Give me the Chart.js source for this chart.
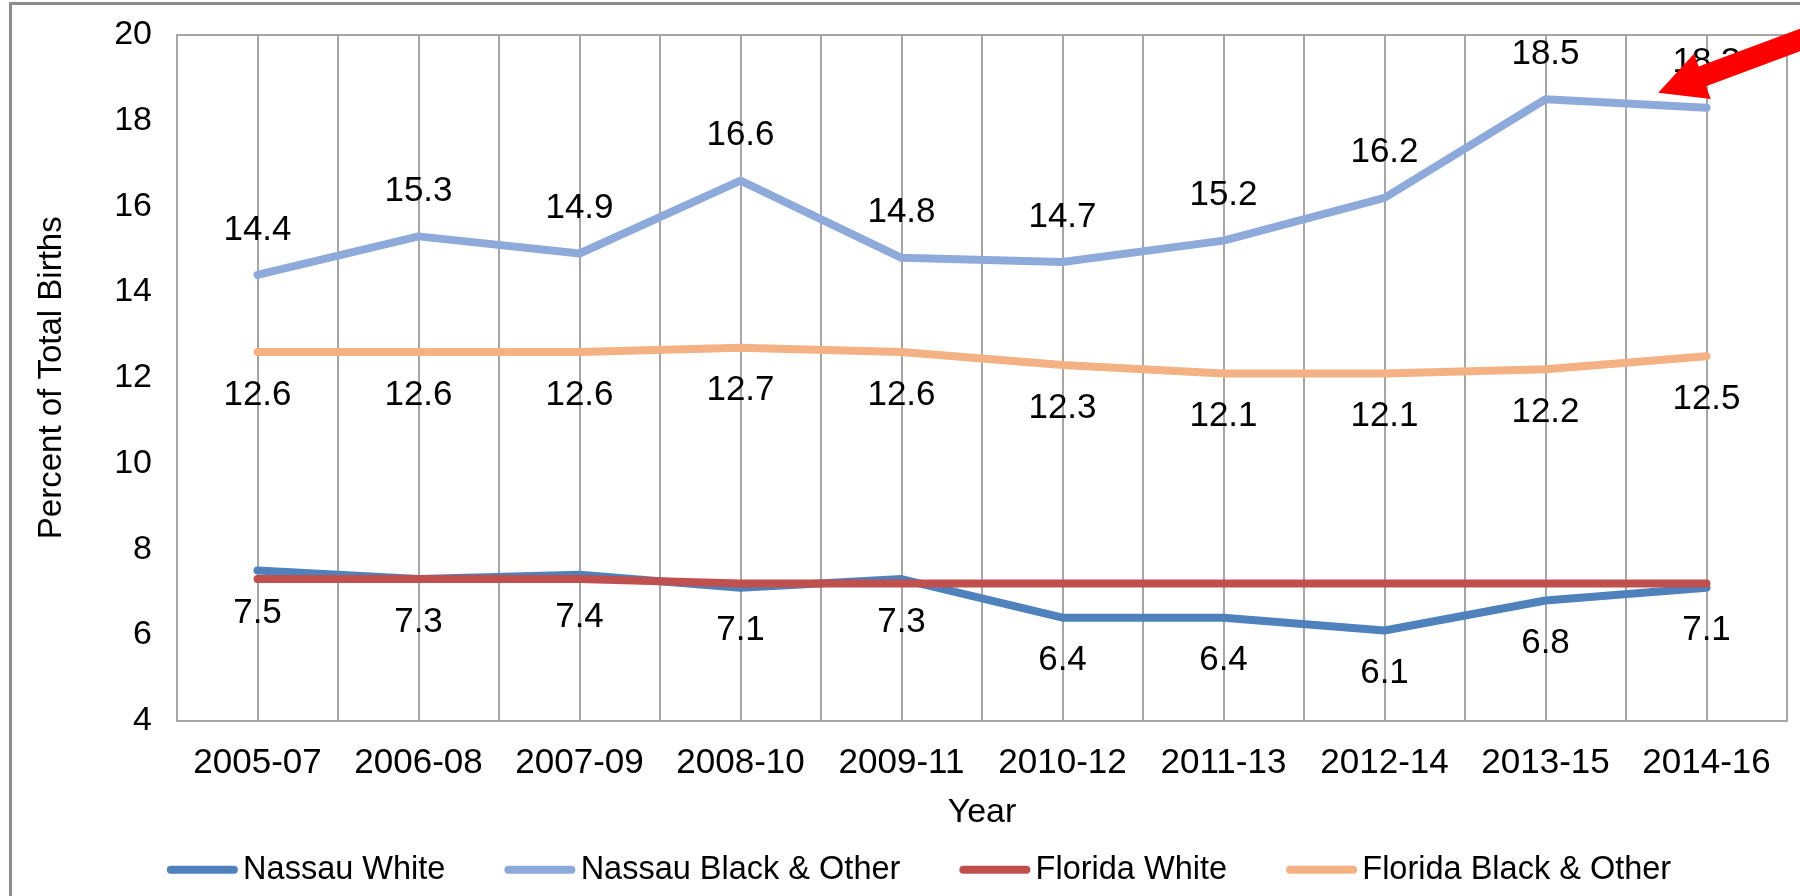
<!DOCTYPE html>
<html>
<head>
<meta charset="utf-8">
<title>Percent of Total Births</title>
<script src="https://cdn.jsdelivr.net/npm/chart.js@4.4.1/dist/chart.umd.min.js"></script>
<style>
  html, body { margin: 0; padding: 0; background: #ffffff; }
  #wrap { position: relative; width: 1800px; height: 896px; overflow: hidden; }
  #frame { position: absolute; left: 9px; top: 2px; width: 2000px; height: 1000px;
           border-left: 3px solid #8c8c8c; border-top: 3px solid #8c8c8c; }
  #birthsChart { position: absolute; left: 0; top: 0; }
</style>
</head>
<body>
<div id="wrap">
  <div id="frame"></div>
  <canvas id="birthsChart" width="1800" height="896"></canvas>
</div>
<script>
// Data
var years = ["2005-07", "2006-08", "2007-09", "2008-10", "2009-11", "2010-12", "2011-13", "2012-14", "2013-15", "2014-16"];
var nassauWhite = [7.5, 7.3, 7.4, 7.1, 7.3, 6.4, 6.4, 6.1, 6.8, 7.1];
var nassauBlack = [14.4, 15.3, 14.9, 16.6, 14.8, 14.7, 15.2, 16.2, 18.5, 18.3];
var floridaWhite = [7.3, 7.3, 7.3, 7.2, 7.2, 7.2, 7.2, 7.2, 7.2, 7.2];
var floridaBlack = [12.6, 12.6, 12.6, 12.7, 12.6, 12.3, 12.1, 12.1, 12.2, 12.5];
var yTicks = [4, 6, 8, 10, 12, 14, 16, 18, 20];

var gridGray = "#a6a6a6";
var fontFamily = "'Liberation Sans', Arial, sans-serif";
Chart.defaults.font.family = fontFamily;
Chart.defaults.color = "#000";

// Value labels above / below the points
var pointLabels = {
  id: "pointLabels",
  afterDatasetsDraw: function(chart) {
    var ctx = chart.ctx;
    ctx.save();
    ctx.font = "35px " + fontFamily;
    ctx.fillStyle = "#000";
    ctx.textAlign = "center";
    ctx.textBaseline = "middle";
    chart.data.datasets.forEach(function(ds, i) {
      if (!ds.labelSide) return;
      var meta = chart.getDatasetMeta(i);
      meta.data.forEach(function(pt, j) {
        var dy = ds.labelSide === "above" ? -45 : 43;
        ctx.fillText(ds.data[j].toFixed(1), pt.x, pt.y + dy);
      });
    });
    ctx.restore();
  }
};

// Legend line samples, drawn right next to the legend text
var legendLines = {
  id: "legendLines",
  afterDraw: function(chart) {
    var legend = chart.legend;
    if (!legend || !legend.legendHitBoxes) return;
    var ctx = chart.ctx;
    ctx.save();
    ctx.lineWidth = 8;
    ctx.lineCap = "round";
    legend.legendItems.forEach(function(item, i) {
      var hb = legend.legendHitBoxes[i];
      var y = hb.top + hb.height / 2;
      ctx.strokeStyle = item.strokeStyle;
      ctx.beginPath();
      ctx.moveTo(hb.left + 25, y);
      ctx.lineTo(hb.left + 88, y);
      ctx.stroke();
    });
    ctx.restore();
  }
};

// Red call-out arrow pointing at the last Nassau Black & Other segment
var arrowNote = {
  id: "arrowNote",
  afterDraw: function(chart) {
    var ctx = chart.ctx;
    var tipX = chart.scales.x.getPixelForValue(8.7);
    var tipY = chart.scales.y.getPixelForValue(18.65);
    var ux = 0.94, uy = -0.35;    // direction from tip back to tail
    var px = -uy, py = ux;        // perpendicular
    var headLen = 47, headHalf = 24, shaftHalf = 10.5, shaftLen = 300;
    var bx = tipX + ux * headLen, by = tipY + uy * headLen;
    ctx.save();
    ctx.fillStyle = "#ff0000";
    ctx.beginPath();
    ctx.moveTo(tipX, tipY);
    ctx.lineTo(bx + px * headHalf, by + py * headHalf);
    ctx.lineTo(bx + px * shaftHalf, by + py * shaftHalf);
    ctx.lineTo(bx + px * shaftHalf + ux * shaftLen, by + py * shaftHalf + uy * shaftLen);
    ctx.lineTo(bx - px * shaftHalf + ux * shaftLen, by - py * shaftHalf + uy * shaftLen);
    ctx.lineTo(bx - px * shaftHalf, by - py * shaftHalf);
    ctx.lineTo(bx - px * headHalf, by - py * headHalf);
    ctx.closePath();
    ctx.fill();
    ctx.restore();
  }
};

function lineSeries(label, data, color, order, labelSide) {
  return {
    label: label,
    data: data,
    borderColor: color,
    backgroundColor: color,
    borderWidth: 8,
    borderCapStyle: "round",
    borderJoinStyle: "round",
    pointRadius: 0,
    pointHoverRadius: 0,
    tension: 0,
    fill: false,
    order: order,
    labelSide: labelSide
  };
}

var ctx = document.getElementById("birthsChart").getContext("2d");
var birthsChart = new Chart(ctx, {
  type: "line",
  data: {
    labels: years,
    datasets: [
      lineSeries("Nassau White", nassauWhite, "#4f81bd", 4, "below"),
      lineSeries("Nassau Black & Other", nassauBlack, "#8eaadb", 3, "above"),
      lineSeries("Florida White", floridaWhite, "#c0504d", 2, null),
      lineSeries("Florida Black & Other", floridaBlack, "#f4b183", 1, "below")
    ]
  },
  options: {
    responsive: false,
    animation: false,
    devicePixelRatio: 1,
    layout: { padding: { top: 35, right: 13, bottom: 0, left: 30 } },
    plugins: {
      tooltip: { enabled: false },
      legend: {
        position: "bottom",
        labels: {
          boxWidth: 81,
          boxHeight: 8,
          padding: 38,
          font: { size: 32.5 },
          color: "#000",
          sort: function(a, b) { return a.datasetIndex - b.datasetIndex; },
          generateLabels: function(chart) {
            var items = Chart.defaults.plugins.legend.labels.generateLabels(chart);
            items.forEach(function(it) {
              it.fillStyle = "rgba(0,0,0,0)";
              it.lineWidth = 0;
            });
            return items;
          }
        }
      }
    },
    scales: {
      x: {
        type: "category",
        offset: true,
        grid: { offset: true, color: gridGray, lineWidth: 2, drawTicks: false },
        border: { display: true, color: gridGray, width: 2 },
        ticks: { font: { size: 35 }, color: "#000", padding: 22, maxRotation: 0, autoSkip: false },
        title: { display: true, text: "Year", font: { size: 34 }, color: "#000",
                 padding: { top: 0, bottom: -18 } },
        afterFit: function(scale) { scale.height = 95; }
      },
      xMid: {
        type: "category",
        position: "top",
        offset: true,
        grid: { offset: false, color: gridGray, lineWidth: 2, drawTicks: false },
        border: { display: false },
        ticks: { display: false },
        afterFit: function(scale) { scale.height = 0; }
      },
      y: {
        min: 4,
        max: 20,
        afterBuildTicks: function(scale) {
          scale.ticks = yTicks.map(function(v) { return { value: v }; });
        },
        grid: {
          drawTicks: false,
          lineWidth: 2,
          color: function(c) { return c.tick && c.tick.value === 20 ? gridGray : "rgba(0,0,0,0)"; }
        },
        border: { display: true, color: gridGray, width: 2 },
        ticks: { font: { size: 34 }, color: "#000", padding: 25 },
        title: { display: true, text: "Percent of Total Births", font: { size: 33 }, color: "#000",
                 padding: { top: 2, bottom: 0 } },
        afterFit: function(scale) {
          scale.width = 147;
          scale.paddingTop = 0;
          scale.paddingBottom = 0;
        }
      }
    }
  },
  plugins: [pointLabels, legendLines, arrowNote]
});
</script>
</body>
</html>
